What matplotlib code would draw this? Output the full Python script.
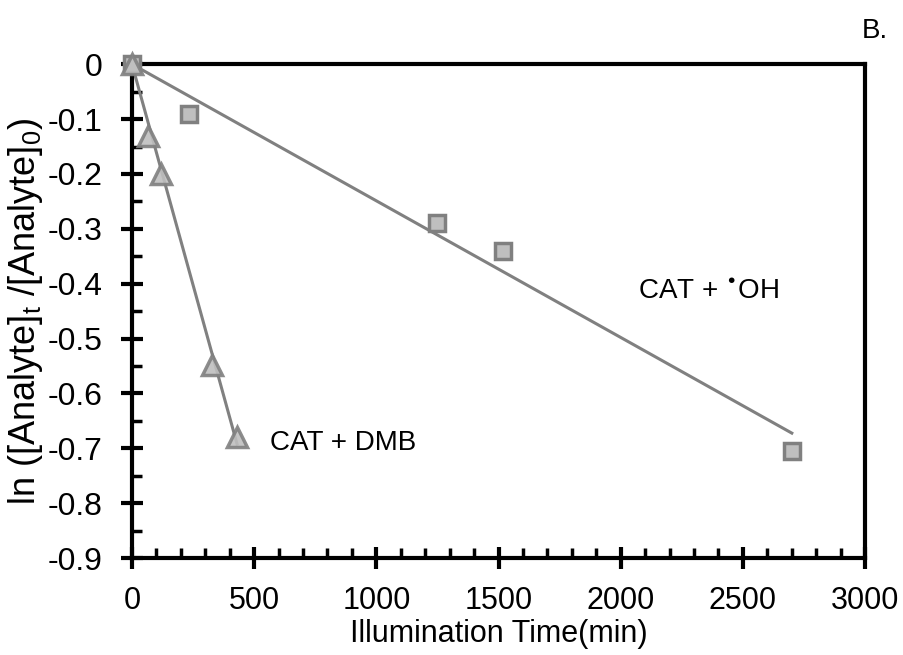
import numpy as np
import matplotlib
matplotlib.use("Agg")
import matplotlib.pyplot as plt
from matplotlib.ticker import MultipleLocator, FuncFormatter

plt.rcParams['font.family'] = ['Liberation Sans', 'DejaVu Sans']
plt.rcParams['mathtext.default'] = 'regular'

# CAT + OH radical (squares)
t_oh = [0, 235, 1250, 1520, 2700]
ln_oh = [0, -0.09, -0.29, -0.34, -0.705]
k_oh = -0.000249

# CAT + DMB (triangles)
t_dmb = [0, 65, 118, 328, 430]
ln_dmb = [0, -0.13, -0.20, -0.548, -0.68]
k_dmb = -0.00161

fig = plt.figure(figsize=(9.04, 6.55), dpi=100)
ax = fig.add_axes([0.146, 0.148, 0.811, 0.754])

gray = '#808080'
fill = '#bfbfbf'

xf = np.array([0, max(t_oh)])
ax.plot(xf, k_oh * xf, color=gray, lw=2.2, zorder=2)
xf2 = np.array([0, max(t_dmb)])
ax.plot(xf2, k_dmb * xf2, color=gray, lw=2.2, zorder=2)

ax.plot(t_oh, ln_oh, ls='none', marker='s', ms=12, mfc=fill, mec=gray, mew=2.5,
        zorder=4, clip_on=False)
ax.plot(t_dmb, ln_dmb, ls='none', marker='^', ms=15, mfc=fill, mec=gray, mew=2.5,
        zorder=4, clip_on=False, alpha=0.9)

ax.set_xlim(0, 3000)
ax.set_ylim(-0.9, 0)
ax.xaxis.set_major_locator(MultipleLocator(500))
ax.xaxis.set_minor_locator(MultipleLocator(100))
ax.yaxis.set_major_locator(MultipleLocator(0.1))
ax.yaxis.set_minor_locator(MultipleLocator(0.05))
ax.yaxis.set_major_formatter(FuncFormatter(lambda v, p: '0' if abs(v) < 1e-9 else f'{v:.1f}'))
ax.tick_params(which='major', direction='inout', length=16, width=3, pad=4)
ax.tick_params(which='minor', direction='in', length=7, width=2.5)
ax.tick_params(axis='x', which='major', labelsize=22, pad=12)
ax.tick_params(axis='y', which='major', labelsize=23, pad=13)
for s in ax.spines.values():
    s.set_linewidth(3)
    s.set_zorder(3)

ax.set_xlabel('Illumination Time(min)', fontsize=22, labelpad=2)
ax.set_ylabel('ln ([Analyte]$_t$ /[Analyte]$_0$)', fontsize=26, labelpad=2)

ax.text(565, -0.69, 'CAT + DMB', fontsize=20, va='center')
ax.text(2070, -0.413, 'CAT + $^{•}$OH', fontsize=20, va='center')
fig.text(0.953, 0.952, 'B.', fontsize=20, ha='left', va='center')

fig.savefig('out.png', dpi=100)
